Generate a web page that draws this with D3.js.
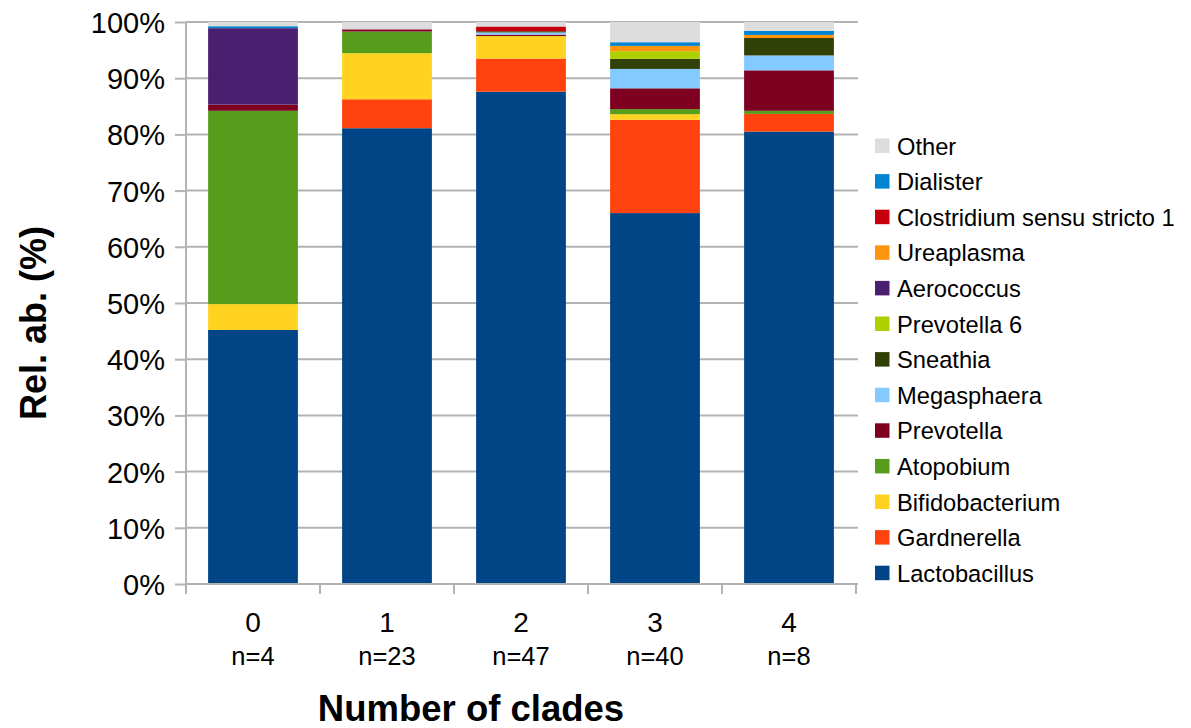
<!DOCTYPE html>
<html>
<head>
<meta charset="utf-8">
<script src="https://cdn.jsdelivr.net/npm/d3@7"></script>
<style>
  body { margin: 0; background: #fff; }
  text { font-family: "Liberation Sans", Arial, sans-serif; fill: #000; }
</style>
</head>
<body>
<svg id="chart" width="1191" height="728"></svg>
<script>
// categories and per-category sample sizes
const categories = ['0', '1', '2', '3', '4'];
const sampleSizes = ['n=4', 'n=23', 'n=47', 'n=40', 'n=8'];
const yTicks = [0, 10, 20, 30, 40, 50, 60, 70, 80, 90, 100];

// relative abundance (%) per taxon, one value per category
const lactobacillus   = [45.2, 81.1, 87.6, 66.0, 80.5];
const gardnerella     = [0, 5.15, 5.9, 16.6, 3.15];
const bifidobacterium = [4.6, 8.2, 4.0, 1.0, 0];
const atopobium       = [34.4, 3.85, 0, 0.9, 0.55];
const prevotella      = [1.1, 0.4, 0.25, 3.7, 7.2];
const megasphaera     = [0, 0, 0.4, 3.45, 2.65];
const sneathia        = [0, 0, 0.2, 1.8, 3.1];
const prevotella6     = [0, 0, 0, 1.35, 0];
const aerococcus      = [13.6, 0, 0, 0, 0];
const ureaplasma      = [0, 0, 0, 0.95, 0.55];
const clostridium     = [0, 0, 0.85, 0, 0];
const dialister       = [0.35, 0, 0, 0.65, 0.7];
const other           = [0.75, 1.3, 0.8, 3.6, 1.6];

const series = [
    { name: 'Lactobacillus', values: lactobacillus, color: '#004586' },
    { name: 'Gardnerella', values: gardnerella, color: '#ff420e' },
    { name: 'Bifidobacterium', values: bifidobacterium, color: '#ffd320' },
    { name: 'Atopobium', values: atopobium, color: '#579d1c' },
    { name: 'Prevotella', values: prevotella, color: '#7e0021' },
    { name: 'Megasphaera', values: megasphaera, color: '#83caff' },
    { name: 'Sneathia', values: sneathia, color: '#314004' },
    { name: 'Prevotella 6', values: prevotella6, color: '#aecf00' },
    { name: 'Aerococcus', values: aerococcus, color: '#4b1f6f' },
    { name: 'Ureaplasma', values: ureaplasma, color: '#ff950e' },
    { name: 'Clostridium sensu stricto 1', values: clostridium, color: '#c5000b' },
    { name: 'Dialister', values: dialister, color: '#0084d1' },
    { name: 'Other', values: other, color: '#dddddd' },
];

const PLOT_LEFT = 186;
const PLOT_RIGHT = 856;
const PLOT_TOP = 22;
const PLOT_BOTTOM = 584;
const GRID_COLOR = '#b3b3b3';

const svg = d3.select('#chart');

const xCoord = d3.scaleBand().domain(categories).range([PLOT_LEFT, PLOT_RIGHT]).paddingInner(0.33).paddingOuter(0.165);
const xTick = d3.scalePoint().domain(d3.range(categories.length + 1)).range([PLOT_LEFT, PLOT_RIGHT]);
const yCoord = d3.scaleLinear().domain([0, 100]).range([PLOT_BOTTOM, PLOT_TOP]);

// table for d3.stack
const table = categories.map((c, i) => {
    const row = { category: c };
    series.forEach(s => { row[s.name] = s.values[i]; });
    return row;
});
const stacked = d3.stack().keys(series.map(s => s.name))(table);

// y ticks + labels
const yAxis = d3.axisLeft(yCoord).tickValues(yTicks).tickSize(11).tickFormat(d => `${d}%`);
const yAxisG = svg.append('g')
    .attr('transform', `translate(${PLOT_LEFT}, 0)`)
    .call(yAxis);
yAxisG.select('.domain').remove();
yAxisG.selectAll('.tick line').attr('stroke', GRID_COLOR).attr('stroke-width', 2);
yAxisG.selectAll('.tick text')
    .attr('font-size', 29)
    .attr('font-family', '"Liberation Sans", Arial, sans-serif')
    .attr('x', -21)
    .attr('dy', '0.36em');

// horizontal grid
svg.append('g')
    .selectAll('line')
    .data(yTicks)
    .join('line')
    .attr('x1', PLOT_LEFT)
    .attr('x2', PLOT_RIGHT + 2)
    .attr('y1', d => yCoord(d))
    .attr('y2', d => yCoord(d))
    .attr('stroke', GRID_COLOR)
    .attr('stroke-width', 2);

// bars
svg.append('g')
    .selectAll('g')
    .data(stacked)
    .join('g')
    .attr('fill', (d, i) => series[i].color)
    .selectAll('rect')
    .data(d => d)
    .join('rect')
    .attr('x', d => xCoord(d.data.category))
    .attr('width', xCoord.bandwidth())
    .attr('y', d => yCoord(d[1]))
    .attr('height', d => Math.max(0, yCoord(d[0]) - yCoord(d[1])));

// axis lines
svg.append('line')
    .attr('x1', PLOT_LEFT).attr('x2', PLOT_LEFT)
    .attr('y1', PLOT_TOP).attr('y2', PLOT_BOTTOM + 10)
    .attr('stroke', GRID_COLOR).attr('stroke-width', 2);
svg.append('line')
    .attr('x1', PLOT_LEFT).attr('x2', PLOT_RIGHT + 2)
    .attr('y1', PLOT_BOTTOM).attr('y2', PLOT_BOTTOM)
    .attr('stroke', GRID_COLOR).attr('stroke-width', 2);
svg.append('g')
    .selectAll('line')
    .data(xTick.domain())
    .join('line')
    .attr('x1', d => xTick(d)).attr('x2', d => xTick(d))
    .attr('y1', PLOT_BOTTOM).attr('y2', PLOT_BOTTOM + 10)
    .attr('stroke', GRID_COLOR).attr('stroke-width', 2);

// x labels
const xLabels = svg.append('g');
xLabels.selectAll('text.cat')
    .data(categories)
    .join('text')
    .attr('class', 'cat')
    .attr('x', d => xCoord(d) + xCoord.bandwidth() / 2)
    .attr('y', 632)
    .attr('text-anchor', 'middle')
    .attr('font-size', 28)
    .text(d => d);
xLabels.selectAll('text.n')
    .data(sampleSizes)
    .join('text')
    .attr('class', 'n')
    .attr('x', (d, i) => xCoord(categories[i]) + xCoord.bandwidth() / 2)
    .attr('y', 665)
    .attr('text-anchor', 'middle')
    .attr('font-size', 25.5)
    .text(d => d);

// axis titles
svg.append('text')
    .attr('x', 471)
    .attr('y', 721)
    .attr('text-anchor', 'middle')
    .attr('font-size', 36.5)
    .attr('font-weight', 'bold')
    .text('Number of clades');
svg.append('text')
    .attr('transform', 'translate(46, 323) rotate(-90)')
    .attr('text-anchor', 'middle')
    .attr('font-size', 36)
    .attr('font-weight', 'bold')
    .text('Rel. ab. (%)');

// legend (reverse stack order)
const legendItems = series.slice().reverse();
const legend = svg.append('g').attr('transform', 'translate(875, 146)');
const legendRow = legend.selectAll('g')
    .data(legendItems)
    .join('g')
    .attr('transform', (d, i) => `translate(0, ${i * 35.6})`);
legendRow.append('rect')
    .attr('x', 0).attr('y', -7.5)
    .attr('width', 14.5).attr('height', 14.5)
    .attr('fill', d => d.color);
legendRow.append('text')
    .attr('x', 22)
    .attr('dy', '0.36em')
    .attr('font-size', 23.7)
    .text(d => d.name);
</script>
</body>
</html>
